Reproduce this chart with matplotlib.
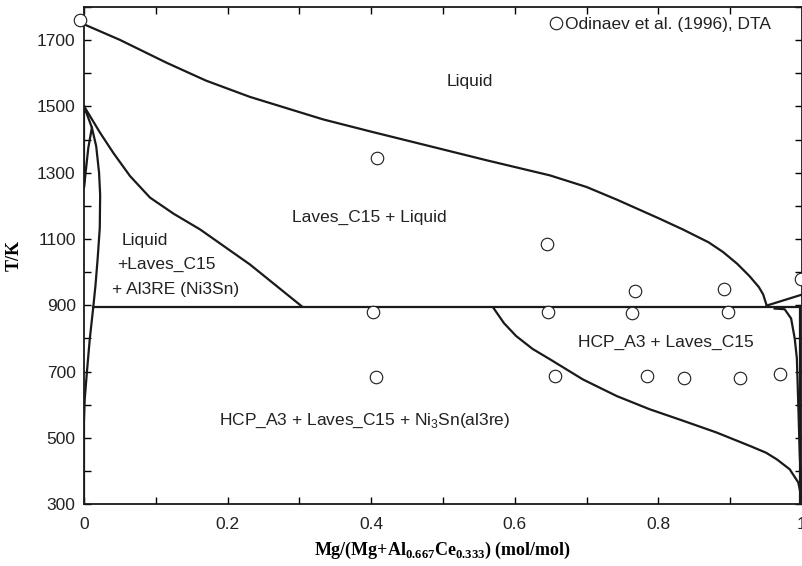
import matplotlib
matplotlib.use("Agg")
import matplotlib.pyplot as plt

plt.rcParams['font.family'] = ['Liberation Sans', 'DejaVu Sans']
plt.rcParams['mathtext.fontset'] = 'custom'
plt.rcParams['mathtext.rm'] = 'Liberation Sans'
plt.rcParams['mathtext.bf'] = 'Liberation Serif:bold'

# calculated phase boundaries
liq_x = [0.0, 0.05, 0.115, 0.17, 0.231, 0.333, 0.40, 0.482, 0.56, 0.649, 0.70, 0.742,
         0.80, 0.834, 0.87, 0.89, 0.91, 0.927, 0.94, 0.946, 0.951]
liq_T = [1748, 1701, 1632, 1578, 1529, 1461, 1424, 1380, 1338, 1292, 1257, 1219,
         1163, 1129, 1090, 1061, 1025, 988, 955, 933, 899]

laves_liq_x = [0.0, 0.0223, 0.0408, 0.0641, 0.0919, 0.125, 0.1616, 0.2312, 0.3032]
laves_liq_T = [1501, 1421, 1360, 1290, 1225, 1176, 1129, 1023, 897]

lens_x = [0.0, 0.011, 0.006, 0.003, 0.0, 0.0]
lens_T = [1501, 1436, 1375, 1315, 1255, 1501]

solvus_left_x = [0.011, 0.017, 0.021, 0.0225, 0.022, 0.019, 0.016, 0.013, 0.008, 0.004, 0.001, 0.0, 0.0]
solvus_left_T = [1436, 1380, 1300, 1234, 1134, 1040, 960, 896, 797, 697, 616, 547, 300]

eut_x = [0.013, 0.997]
eut_T = [895, 895]

low_x = [0.570, 0.585, 0.602, 0.625, 0.649, 0.695, 0.742, 0.788, 0.835, 0.881, 0.928,
         0.950, 0.965, 0.983, 0.995, 1.0]
low_T = [893, 846, 807, 768, 737, 676, 626, 586, 551, 516, 475, 455, 435, 405, 365, 314]

hcp_x = [0.962, 0.976, 0.985, 0.990, 0.993, 0.995, 0.997, 1.0]
hcp_T = [890, 888, 860, 800, 740, 600, 450, 314]

mg_x = [0.997, 0.997]
mg_T = [898, 300]

mgliq_x = [0.951, 1.0]
mgliq_T = [899, 932]

# Odinaev et al. (1996), DTA
dta_x = [-0.005, 0.408, 0.645, 0.402, 0.647, 0.763, 0.897, 0.767, 0.891, 0.999,
         0.407, 0.656, 0.784, 0.836, 0.914, 0.970]
dta_T = [1760, 1343, 1084, 881, 881, 878, 881, 943, 948, 980,
         684, 686, 686, 681, 681, 691]

x_ticks = [0, 0.2, 0.4, 0.6, 0.8, 1.0]
x_ticklabels = ['0', '0.2', '0.4', '0.6', '0.8', '1']
y_ticks = [300, 500, 700, 900, 1100, 1300, 1500, 1700]

fig = plt.figure(figsize=(8.03, 5.66), dpi=100)
ax = fig.add_axes([0.1046, 0.1095, 0.894, 0.878])

lw = 1.6
for xs, ts in [(liq_x, liq_T), (laves_liq_x, laves_liq_T), (lens_x, lens_T),
               (solvus_left_x, solvus_left_T), (eut_x, eut_T), (low_x, low_T),
               (hcp_x, hcp_T), (mg_x, mg_T), (mgliq_x, mgliq_T)]:
    ax.plot(xs, ts, color='#1a1a1a', lw=lw, solid_joinstyle='round')

ax.plot(dta_x, dta_T, 'o', mfc='white', mec='#1a1a1a', ms=9, mew=0.8,
        clip_on=False, zorder=5, label='Odinaev et al. (1996), DTA')

tc = '#222222'
ax.text(0.537, 1575, 'Liquid', fontsize=12.5, ha='center', va='center', color=tc)
ax.text(0.397, 1164, 'Laves_C15 + Liquid', fontsize=12.5, ha='center', va='center', color=tc)
ax.text(0.053, 1094, 'Liquid', fontsize=12.5, ha='left', va='center', color=tc)
ax.text(0.046, 1023, '+Laves_C15', fontsize=12.5, ha='left', va='center', color=tc)
ax.text(0.039, 948, '+ Al3RE (Ni3Sn)', fontsize=12.5, ha='left', va='center', color=tc)
ax.text(0.811, 787, 'HCP_A3 + Laves_C15', fontsize=12.5, ha='center', va='center', color=tc)
ax.text(0.391, 550, r'HCP_A3 + Laves_C15 + Ni$_\mathrm{3}$Sn(al3re)', fontsize=12.5,
        ha='center', va='center', color=tc)

ax.legend(loc='upper left', bbox_to_anchor=(0.638, 0.997), frameon=False,
          handlelength=0.6, handletextpad=0.2, borderaxespad=0.1,
          fontsize=12.5, labelcolor=tc)

ax.set_xlim(0, 1)
ax.set_ylim(300, 1800)
ax.set_xticks(x_ticks)
ax.set_xticklabels(x_ticklabels)
ax.set_xticks([0.1, 0.3, 0.5, 0.7, 0.9], minor=True)
ax.set_yticks(y_ticks)
ax.set_yticks([400, 600, 800, 1000, 1200, 1400, 1600, 1800], minor=True)
ax.tick_params(which='both', direction='in', top=True, right=True, length=5,
               width=1.0, labelsize=12.5, labelcolor=tc)
ax.tick_params(axis='x', pad=9)
ax.tick_params(axis='y', pad=6)
for s in ax.spines.values():
    s.set_linewidth(1.3)
    s.set_color('#1a1a1a')

ax.set_xlabel(r'Mg/(Mg+Al$_\mathbf{0.667}$Ce$_\mathbf{0.333}$) (mol/mol)',
              fontfamily='Liberation Serif', fontweight='bold', fontsize=13, labelpad=6)
ax.set_ylabel('T/K', fontfamily='Liberation Serif', fontweight='bold', fontsize=13, labelpad=10)

fig.savefig('out.png', dpi=100)
